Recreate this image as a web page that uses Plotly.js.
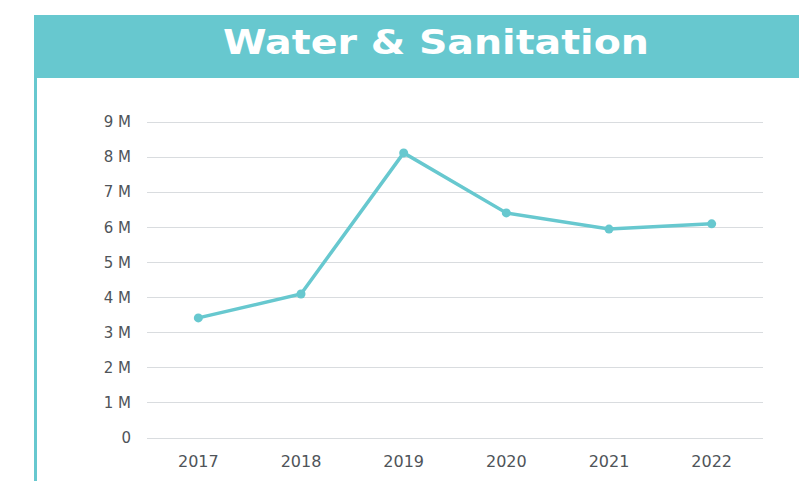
<!DOCTYPE html>
<html>
<head>
<meta charset="utf-8">
<script src="https://cdn.plot.ly/plotly-3.0.1.min.js"></script>
<style>
html,body{margin:0;padding:0;background:#ffffff;}
#chart{width:799px;height:481px;}
</style>
</head>
<body>
<div id="chart"></div>
<script>
const years = ["2017", "2018", "2019", "2020", "2021", "2022"];
const funding = [3420000, 4100000, 8120000, 6410000, 5950000, 6100000];
const tickValues = [0, 1000000, 2000000, 3000000, 4000000, 5000000, 6000000, 7000000, 8000000, 9000000];
const tickLabels = ["0", "1 M", "2 M", "3 M", "4 M", "5 M", "6 M", "7 M", "8 M", "9 M"];
const chartTitle = "Water & Sanitation";

const teal = "#67c8cf";
const W = 799, H = 481;
const L = 147, R = 36, T = 120, B = 43;
const pw = W - L - R, ph = H - T - B;
const yMax = 9000000 * ph / 316;
const px = x => (x - L) / pw;
const py = y => (H - B - y) / ph;

const trace = {
  x: years,
  y: funding,
  type: "scatter",
  mode: "lines+markers",
  line: {color: teal, width: 3.5},
  marker: {color: teal, size: 9},
  hoverinfo: "x+y"
};

const layout = {
  width: W, height: H,
  margin: {l: L, r: R, t: T, b: B, pad: 0},
  paper_bgcolor: "#ffffff",
  plot_bgcolor: "#ffffff",
  showlegend: false,
  font: {family: "'DejaVu Sans', sans-serif", color: "#4f5459", size: 15},
  xaxis: {
    type: "category",
    range: [-0.5, 5.5],
    showgrid: false,
    zeroline: false,
    showline: false,
    ticks: "",
    tickfont: {family: "'DejaVu Sans', sans-serif", size: 16, color: "#4f5459"},
    ticklabelstandoff: 12
  },
  yaxis: {
    range: [0, yMax],
    tickvals: tickValues,
    ticktext: tickLabels,
    showgrid: true,
    gridcolor: "#d9dcdf",
    gridwidth: 1,
    zeroline: true,
    zerolinecolor: "#d9dcdf",
    zerolinewidth: 1,
    showline: false,
    ticks: "",
    tickfont: {family: "'DejaVu Sans', sans-serif", size: 15, color: "#4f5459"},
    ticklabelstandoff: 15
  },
  shapes: [
    {type: "rect", xref: "paper", yref: "paper", x0: px(34), x1: px(810), y0: py(78), y1: py(15),
     fillcolor: teal, line: {width: 0}, layer: "below"},
    {type: "rect", xref: "paper", yref: "paper", x0: px(34), x1: px(37), y0: py(490), y1: py(15),
     fillcolor: teal, line: {width: 0}, layer: "below"}
  ],
  annotations: [
    {text: "<b>" + chartTitle + "</b>", xref: "paper", yref: "paper", x: px(436), y: py(42),
     xanchor: "center", yanchor: "middle", showarrow: false,
     font: {family: "'DejaVu Sans', sans-serif", size: 33, color: "#ffffff"}}
  ]
};

Plotly.newPlot("chart", [trace], layout, {displayModeBar: false, staticPlot: true}).then(gd => {
  const t = gd.querySelector(".annotation-text");
  if (t) {
    t.setAttribute("textLength", "426");
    t.setAttribute("lengthAdjust", "spacingAndGlyphs");
  }
});
</script>
</body>
</html>
